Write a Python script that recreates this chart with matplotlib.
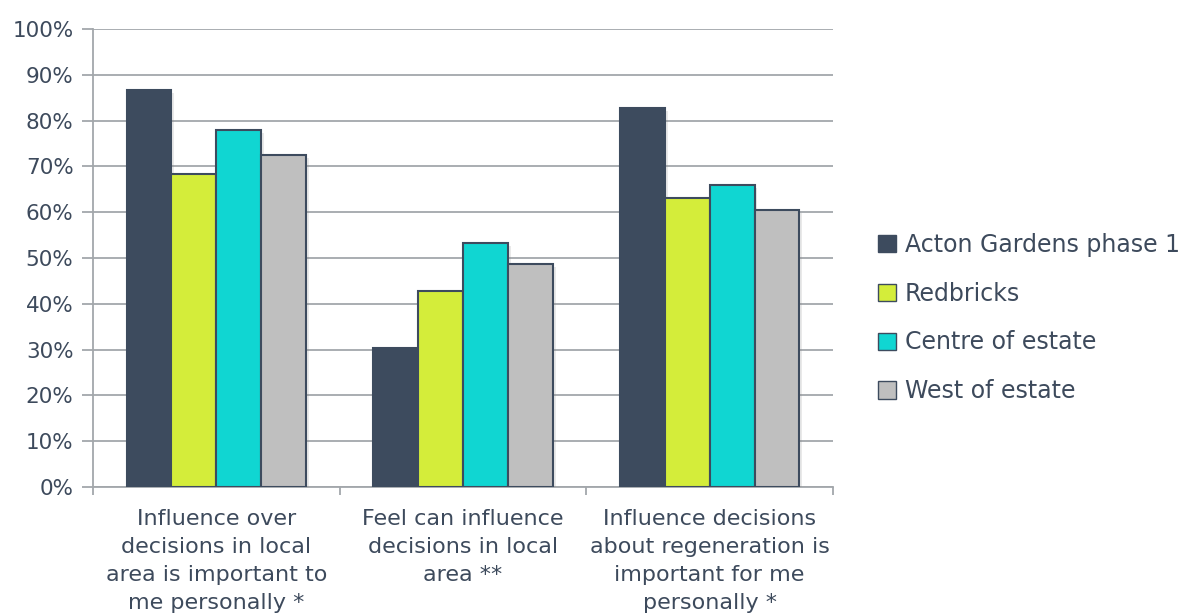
import matplotlib
matplotlib.use("Agg")
import matplotlib.pyplot as plt
from matplotlib.patches import Patch
import matplotlib.patheffects as pe
import numpy as np

categories = [
    "Influence over\ndecisions in local\narea is important to\nme personally *",
    "Feel can influence\ndecisions in local\narea **",
    "Influence decisions\nabout regeneration is\nimportant for me\npersonally *",
]
series_names = ["Acton Gardens phase 1", "Redbricks", "Centre of estate", "West of estate"]
acton = [86.7, 30.3, 82.7]
redbricks = [68.3, 42.8, 63.2]
centre = [77.9, 53.2, 65.9]
west = [72.5, 48.6, 60.5]
series_values = [acton, redbricks, centre, west]
yticks = [0, 10, 20, 30, 40, 50, 60, 70, 80, 90, 100]
ytick_labels = [f"{v}%" for v in yticks]

colors = ["#3d4b5e", "#d4ed3a", "#10d6d2", "#bfbfbf"]
edge = "#3d4b5e"
text_col = "#3d4a5c"
grid_col = "#a3a7ab"

plt.rcParams['font.family'] = ['DejaVu Sans']

fig = plt.figure(figsize=(11.82, 6.15), dpi=100)
ax = fig.add_axes([93/1182, 1-487/615, (833-93)/1182, (487-29)/615])

x = np.arange(len(categories))
w = 0.182
offsets = [-1.5*w, -0.5*w, 0.5*w, 1.5*w]
shadow = [pe.SimplePatchShadow(offset=(2, -2), shadow_rgbFace='#888888', alpha=0.18), pe.Normal()]
for vals, off, c in zip(series_values, offsets, colors):
    bars = ax.bar(x + off, vals, width=w, color=c, edgecolor=edge, linewidth=1.5, zorder=3)
    for b in bars:
        b.set_path_effects(shadow)

ax.set_xlim(-0.5, 2.5)
ax.set_ylim(0, 100)
ax.set_yticks(yticks)
ax.set_yticklabels(ytick_labels, fontsize=15.5, color=text_col)
ax.yaxis.grid(True, color=grid_col, linewidth=1.3, zorder=0)
ax.set_axisbelow(True)

ax.set_xticks([-0.5, 0.5, 1.5, 2.5])
ax.set_xticklabels([])
ax.set_xticks(x, minor=True)
ax.set_xticklabels(categories, minor=True, fontsize=16, color=text_col, linespacing=1.5)
ax.tick_params(axis='x', which='major', length=6, width=1.3, color=grid_col, direction='out')
ax.tick_params(axis='x', which='minor', length=0, pad=16)
ax.tick_params(axis='y', length=8, width=1.3, color=grid_col, pad=6)

for s in ['top', 'right']:
    ax.spines[s].set_visible(False)
for s in ['left', 'bottom']:
    ax.spines[s].set_color(grid_col)
    ax.spines[s].set_linewidth(1.3)

handles = [Patch(facecolor=c, edgecolor=edge, linewidth=1.0) for c in colors]
fig.legend(handles, series_names, loc='center left', bbox_to_anchor=(866/1182, 1-318/615),
           frameon=False, fontsize=17, labelcolor=text_col, handlelength=0.75, handleheight=0.75,
           handletextpad=0.4, labelspacing=1.05, borderpad=0)

fig.savefig("out.png", dpi=100)
